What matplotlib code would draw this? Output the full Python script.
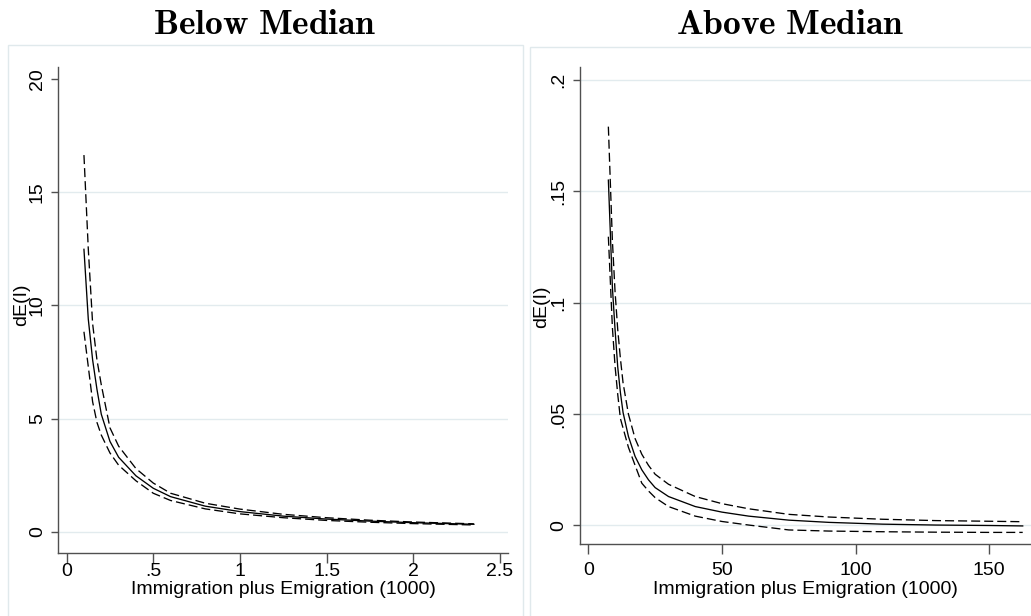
import matplotlib
matplotlib.use("Agg")
import matplotlib.pyplot as plt
from matplotlib.patches import Rectangle

# ---- data ----
# Below median panel (x in 1000s)
below_x = [0.1, 0.125, 0.15, 0.175, 0.2, 0.25, 0.3, 0.4, 0.5, 0.6, 0.8, 1.0,
           1.25, 1.5, 1.75, 2.0, 2.35]
below_est = [12.48, 9.4, 7.6, 6.3, 5.2, 4.0, 3.3, 2.48, 1.93, 1.56, 1.14, 0.90,
             0.70, 0.57, 0.48, 0.41, 0.34]
below_hi = [16.64, 12.5, 9.2, 7.6, 6.5, 4.6, 3.79, 2.80, 2.16, 1.71, 1.27, 1.01,
            0.78, 0.63, 0.52, 0.44, 0.36]
below_lo = [8.84, 7.3, 5.75, 4.84, 4.28, 3.49, 2.95, 2.26, 1.71, 1.39, 1.02, 0.80,
            0.63, 0.51, 0.43, 0.37, 0.31]

# Above median panel
above_x = [7.5, 9, 10, 11, 12, 13, 15, 17.5, 20, 22.5, 25, 30, 40, 50, 60, 75,
           90, 110, 130, 150, 162.5]
above_est = [0.155, 0.107, 0.088, 0.0712, 0.0597, 0.0507, 0.040, 0.031, 0.025,
             0.0205, 0.017, 0.0130, 0.0085, 0.0060, 0.0042, 0.0024, 0.0014,
             0.0006, 0.0002, 0.0, -0.0002]
above_hi = [0.179, 0.128, 0.105, 0.088, 0.075, 0.064, 0.050, 0.039, 0.032,
            0.027, 0.023, 0.0185, 0.0130, 0.0098, 0.0075, 0.0050, 0.0038,
            0.0028, 0.0022, 0.0019, 0.0017]
above_lo = [0.1296, 0.089, 0.0716, 0.0589, 0.048, 0.0437, 0.0351, 0.027, 0.019,
            0.0155, 0.0125, 0.0085, 0.0042, 0.0018, 0.0002, -0.002, -0.0025,
            -0.0028, -0.003, -0.0031, -0.0031]

below_xticks = [0, 0.5, 1, 1.5, 2, 2.5]
below_xlabels = ["0", ".5", "1", "1.5", "2", "2.5"]
below_yticks = [0, 5, 10, 15, 20]
below_ylabels = ["0", "5", "10", "15", "20"]

above_xticks = [0, 50, 100, 150]
above_xlabels = ["0", "50", "100", "150"]
above_yticks = [0, 0.05, 0.1, 0.15, 0.2]
above_ylabels = ["0", ".05", ".1", ".15", ".2"]

plt.rcParams["font.family"] = ["Liberation Sans", "DejaVu Sans"]
plt.rcParams["mathtext.fontset"] = "cm"
plt.rcParams["lines.scale_dashes"] = False

AXIS_COL = "#505050"
GRID_COL = "#e2ebee"
BOX_COL = "#e0e9ec"
DASH = (0, (6.5, 2.9))
FS = 14

fig = plt.figure(figsize=(10.31, 6.16), dpi=100, facecolor="white")

# faint panel frames
fig.patches.append(Rectangle((8 / 1031, -0.01), 515 / 1031, (616 - 45) / 616 + 0.01,
                             transform=fig.transFigure, fill=False,
                             edgecolor=BOX_COL, lw=1.0))
fig.patches.append(Rectangle((530 / 1031, -0.01), 510 / 1031, (616 - 47) / 616 + 0.01,
                             transform=fig.transFigure, fill=False,
                             edgecolor=BOX_COL, lw=1.0))


def setup_axes(ax, x, est, hi, lo, xlim, ylim, xticks, xlabels, yticks, ylabels,
               grid_ticks, xpad):
    for yv in grid_ticks:
        ax.axhline(yv, color=GRID_COL, lw=1.0, zorder=0)
    ax.plot(x, hi, color="black", lw=0.95, linestyle=DASH)
    ax.plot(x, est, color="black", lw=0.95)
    ax.plot(x, lo, color="black", lw=0.95, linestyle=DASH)

    ax.set_xlim(*xlim)
    ax.set_ylim(*ylim)
    ax.set_xticks(xticks)
    ax.set_xticklabels(xlabels)
    ax.set_yticks(yticks)
    ax.set_yticklabels(ylabels, rotation=90, va="center")
    for side in ["top", "right"]:
        ax.spines[side].set_visible(False)
    for side in ["left", "bottom"]:
        ax.spines[side].set_color(AXIS_COL)
        ax.spines[side].set_linewidth(1.0)
    ax.tick_params(axis="y", length=5, width=1, color=AXIS_COL, labelsize=FS, pad=4)
    ax.tick_params(axis="x", length=7, width=1, color=AXIS_COL, labelsize=FS, pad=xpad)
    ax.set_facecolor("none")
    ax.set_xlabel("Immigration plus Emigration (1000)", fontsize=FS)
    ax.set_ylabel("dE(I)", fontsize=FS)


# left panel
ax1 = fig.add_axes([58.3 / 1031, 0.1023, 449.4 / 1031, 0.789])
setup_axes(ax1, below_x, below_est, below_hi, below_lo,
           (-0.048, 2.545), (-0.927, 20.53),
           below_xticks, below_xlabels, below_yticks, below_ylabels,
           [0, 5, 10, 15], xpad=0.5)
ax1.yaxis.set_label_coords(-0.063, 0.51)
ax1.xaxis.set_label_coords(0.5, -0.057)

# right panel
ax2 = fig.add_axes([580 / 1031, 0.1164, 451 / 1031, 0.7753])
setup_axes(ax2, above_x, above_est, above_hi, above_lo,
           (-3.11, 165.6), (-0.00844, 0.2059),
           above_xticks, above_xlabels, above_yticks, above_ylabels,
           [0, 0.05, 0.1, 0.15, 0.2], xpad=5.5)
ax2.yaxis.set_label_coords(-0.066, 0.497)
ax2.xaxis.set_label_coords(0.5, -0.076)

fig.text(265 / 1031, 0.961, r"$\mathbf{Below\ Median}$", ha="center", va="center",
         fontsize=25.5)
fig.text(790 / 1031, 0.961, r"$\mathbf{Above\ Median}$", ha="center", va="center",
         fontsize=25.5)

fig.savefig("out.png", dpi=100, facecolor="white")
